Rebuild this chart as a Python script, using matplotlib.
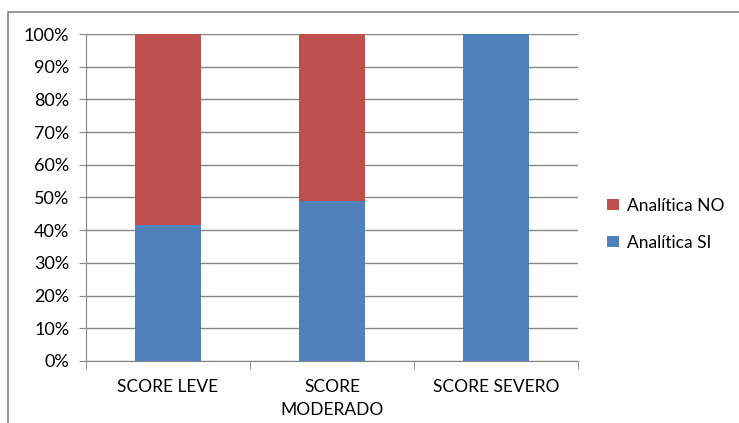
import matplotlib.pyplot as plt
from matplotlib.patches import Rectangle
from matplotlib.ticker import FuncFormatter, FixedLocator

plt.rcParams['font.family'] = ['Lato', 'DejaVu Sans']

categories = ["SCORE LEVE", "SCORE\nMODERADO", "SCORE SEVERO"]
analitica_si = [41.6, 48.9, 100.0]
analitica_no = [58.4, 51.1, 0.0]

blue = "#4F81BD"
red = "#C0504D"
grid_gray = "#868686"

fig = plt.figure(figsize=(7.39, 4.23), dpi=100)
ax = fig.add_axes([0.1164, 0.1466, 0.6658, 0.773])

# chart border
fig.patches.append(Rectangle((8 / 739, -0.1), 1.2, 1 - 12 / 423 + 0.1,
                             transform=fig.transFigure, fill=False,
                             edgecolor=grid_gray, linewidth=1.2))

x = range(len(categories))
ax.bar(x, analitica_si, width=0.4, color=blue, label="Analítica SI", zorder=3)
ax.bar(x, analitica_no, width=0.4, bottom=analitica_si, color=red,
       label="Analítica NO", zorder=3)

ax.set_xlim(-0.5, 2.5)
ax.set_ylim(0, 100)
ax.set_yticks(range(0, 101, 10))
ax.yaxis.set_major_formatter(FuncFormatter(lambda v, p: f"{int(v)}%"))
ax.yaxis.grid(True, color=grid_gray, linewidth=1)
ax.set_axisbelow(True)

ax.set_xticks(list(x))
ax.set_xticklabels(categories, fontsize=12.5, linespacing=1.55)
ax.tick_params(axis='x', length=0, pad=13)
ax.xaxis.set_minor_locator(FixedLocator([-0.5, 0.5, 1.5, 2.5]))
ax.tick_params(axis='x', which='minor', length=6, color=grid_gray)
ax.tick_params(axis='y', length=5, color=grid_gray, labelsize=13, pad=7)

for side in ['top', 'right']:
    ax.spines[side].set_visible(False)
for side in ['left', 'bottom']:
    ax.spines[side].set_color(grid_gray)

handles, labels = ax.get_legend_handles_labels()
fig.legend(handles[::-1], labels[::-1], loc='center left',
           bbox_to_anchor=(0.81, 0.47), frameon=False, fontsize=12.5,
           handlelength=0.65, handleheight=0.65, handletextpad=0.5,
           labelspacing=1.2, borderpad=0)

fig.savefig("out.png", dpi=100)
